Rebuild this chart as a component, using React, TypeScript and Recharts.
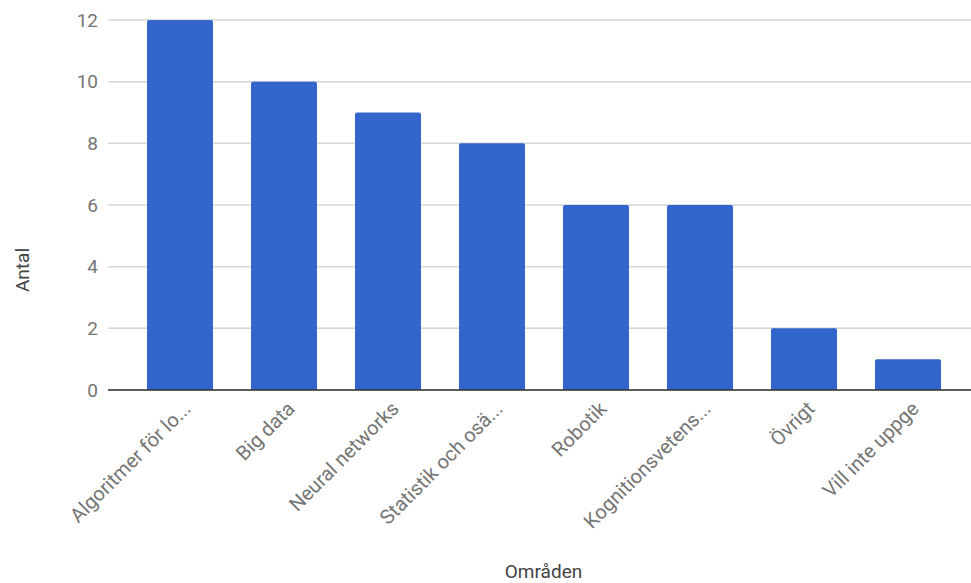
import { BarChart, Bar, XAxis, YAxis, CartesianGrid, Label } from 'recharts';

// Svar per område
const CATEGORIES = [
  'Algoritmer för lo...',
  'Big data',
  'Neural networks',
  'Statistik och osä...',
  'Robotik',
  'Kognitionsvetens...',
  'Övrigt',
  'Vill inte uppge',
];
const COUNTS = [12, 10, 9, 8, 6, 6, 2, 1];
const Y_TICKS = [0, 2, 4, 6, 8, 10, 12];

const chartData = CATEGORIES.map((name, i) => ({ name, antal: COUNTS[i] }));

const FONT = 'Roboto, Arial, sans-serif';
const TICK_COLOR = '#757575';
const TITLE_COLOR = '#444';

function AngledTick({ x, y, payload }: any) {
  return (
    <g transform={`translate(${x + 7},${y + 7})`}>
      <text
        textAnchor="end"
        transform="rotate(-45)"
        dy="0.35em"
        fill={TICK_COLOR}
        fontSize={20}
        fontFamily={FONT}
      >
        {payload.value}
      </text>
    </g>
  );
}

function YTitle({ viewBox }: any) {
  const x = viewBox.x + 22;
  const y = viewBox.y + viewBox.height / 2 + 65;
  return (
    <text
      x={x}
      y={y}
      transform={`rotate(-90 ${x} ${y})`}
      textAnchor="middle"
      dominantBaseline="central"
      fill={TITLE_COLOR}
      fontSize={19}
      fontFamily={FONT}
    >
      Antal
    </text>
  );
}

function XTitle({ viewBox }: any) {
  return (
    <text
      x={viewBox.x + viewBox.width / 2 + 4}
      y={571}
      textAnchor="middle"
      dominantBaseline="central"
      fill={TITLE_COLOR}
      fontSize={19}
      fontFamily={FONT}
    >
      Områden
    </text>
  );
}

export default function App() {
  return (
    <div style={{ position: 'absolute', left: 0, top: 0, background: '#fff' }}>
      <BarChart
        width={971}
        height={583}
        data={chartData}
        margin={{ top: 20, right: 0, bottom: 0, left: 0 }}
      >
        <CartesianGrid horizontal vertical={false} stroke="#d6d6d6" strokeWidth={1.5} />
        <XAxis
          dataKey="name"
          interval={0}
          height={193}
          padding={{ left: 20, right: 11 }}
          axisLine={{ stroke: '#333', strokeWidth: 1.5 }}
          tickLine={false}
          tick={<AngledTick />}
        >
          <Label content={<XTitle />} />
        </XAxis>
        <YAxis
          width={108}
          domain={[0, 12]}
          ticks={Y_TICKS}
          axisLine={false}
          tickLine={false}
          tickMargin={4}
          tick={{ fill: TICK_COLOR, fontSize: 19, fontFamily: FONT }}
        >
          <Label content={<YTitle />} />
        </YAxis>
        <Bar
          dataKey="antal"
          fill="#3366cc"
          barSize={66}
          radius={[2, 2, 0, 0]}
          isAnimationActive={false}
        />
      </BarChart>
    </div>
  );
}
